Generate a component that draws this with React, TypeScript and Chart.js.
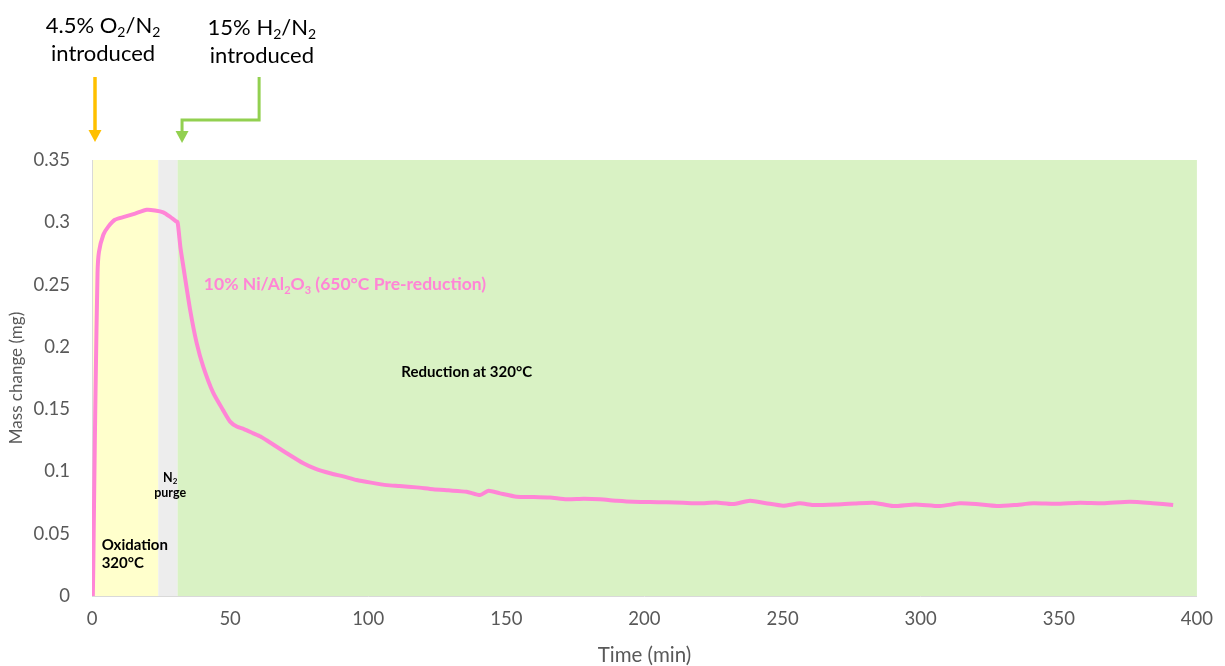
import React, { useEffect, useRef } from "react";
import { Chart, registerables } from "chart.js";

Chart.register(...registerables);

// ---- data ----
const timeMin: number[] = [
  0, 0.3, 0.6, 1.0, 1.3, 2.0, 2.5, 4.1, 5.9, 8.3, 11.9, 15.6, 19.8, 22.8, 25.8, 28.2, 30.3, 31.0,
  32.0, 33.1, 35.5, 37.9, 40.3, 43.9, 47.5, 50, 52.4, 55, 58.4, 61, 63.2, 66, 70.5, 76.5, 81,
  86.2, 91, 95.8, 101, 106.7, 111.4, 117.5, 123.5, 129, 135.6, 140.5, 143.5, 147.7, 153.7, 160,
  165.8, 171.8, 178, 183.9, 190, 196, 202, 208, 214, 220, 226, 232, 238.2, 244, 250.2, 256.3,
  261, 270, 276, 282.8, 290, 298, 307, 314.2, 320, 327.5, 334, 340.8, 349, 357.7, 366, 375.7,
  384, 391.4,
];
const massMg: number[] = [
  0, 0, 0.05, 0.12, 0.168, 0.259, 0.276, 0.29, 0.2965, 0.302, 0.3045, 0.307, 0.31, 0.3095, 0.308,
  0.3045, 0.301, 0.3, 0.28, 0.264, 0.23, 0.203, 0.184, 0.163, 0.149, 0.14, 0.136, 0.134, 0.1306,
  0.128, 0.125, 0.121, 0.1146, 0.1065, 0.102, 0.0985, 0.096, 0.0931, 0.091, 0.089, 0.0883, 0.0872,
  0.0857, 0.0848, 0.0837, 0.081, 0.0845, 0.0824, 0.0797, 0.0795, 0.079, 0.0776, 0.078, 0.0776,
  0.0765, 0.0757, 0.0755, 0.0752, 0.0748, 0.0744, 0.075, 0.0738, 0.0765, 0.0745, 0.0725, 0.0744,
  0.073, 0.0735, 0.0742, 0.0749, 0.0722, 0.0735, 0.0722, 0.0744, 0.0738, 0.0722, 0.073, 0.0744,
  0.074, 0.0749, 0.0745, 0.0757, 0.0745, 0.073,
];

// shaded stages (minutes)
const stageStart: number[] = [0, 24, 31];
const stageEnd: number[] = [24, 31, 400];

const xTicks: number[] = [0, 50, 100, 150, 200, 250, 300, 350, 400];
const yTickLabels: string[] = ["0", "0.05", "0.1", "0.15", "0.2", "0.25", "0.3", "0.35"];

type Seg = { t: string; sub?: boolean };
const seriesLabel: Seg[] = [
  { t: "10% Ni/Al" }, { t: "2", sub: true }, { t: "O" }, { t: "3", sub: true },
  { t: " (650°C Pre-reduction)" },
];
const o2Line1: Seg[] = [{ t: "4.5% O" }, { t: "2", sub: true }, { t: "/N" }, { t: "2", sub: true }];
const h2Line1: Seg[] = [{ t: "15% H" }, { t: "2", sub: true }, { t: "/N" }, { t: "2", sub: true }];
const introduced: Seg[] = [{ t: "introduced" }];
const reductionLabel: Seg[] = [{ t: "Reduction at 320°C" }];
const oxidationLines: Seg[][] = [[{ t: "Oxidation" }], [{ t: "320°C" }]];
const purgeLines: Seg[][] = [[{ t: "N" }, { t: "2", sub: true }], [{ t: "purge" }]];

const FAMILY = 'Lato, "Open Sans", sans-serif';

function drawRich(
  ctx: CanvasRenderingContext2D,
  segs: Seg[],
  x: number,
  y: number,
  size: number,
  weight: string,
  color: string,
  align: "left" | "center"
) {
  const base = `${weight} ${size}px ${FAMILY}`;
  const small = `${weight} ${Math.round(size * 0.62)}px ${FAMILY}`;
  let w = 0;
  for (const s of segs) {
    ctx.font = s.sub ? small : base;
    w += ctx.measureText(s.t).width;
  }
  let cx = align === "center" ? x - w / 2 : x;
  ctx.textAlign = "left";
  ctx.textBaseline = "alphabetic";
  ctx.fillStyle = color;
  for (const s of segs) {
    ctx.font = s.sub ? small : base;
    ctx.fillText(s.t, cx, s.sub ? y + size * 0.2 : y);
    cx += ctx.measureText(s.t).width;
  }
}

function arrowHead(ctx: CanvasRenderingContext2D, x: number, tipY: number, color: string) {
  ctx.fillStyle = color;
  ctx.beginPath();
  ctx.moveTo(x - 6.5, tipY - 12);
  ctx.lineTo(x + 6.5, tipY - 12);
  ctx.lineTo(x, tipY);
  ctx.closePath();
  ctx.fill();
}

const stagePlugin = {
  id: "stages",
  beforeDraw(chart: any) {
    const { ctx, chartArea, scales } = chart;
    const colors = ["#FFFFCC", "#EDEDED", "#D9F2C4"];
    ctx.save();
    for (let i = 0; i < stageStart.length; i++) {
      const x0 = scales.x.getPixelForValue(stageStart[i]);
      const x1 = scales.x.getPixelForValue(stageEnd[i]);
      ctx.fillStyle = colors[i];
      ctx.fillRect(x0, chartArea.top, x1 - x0, chartArea.bottom - chartArea.top);
    }
    ctx.restore();
  },
  afterDraw(chart: any) {
    const { ctx, scales } = chart;
    const X = (v: number) => scales.x.getPixelForValue(v);
    const Y = (v: number) => scales.y.getPixelForValue(v);
    ctx.save();

    // top annotations
    drawRich(ctx, o2Line1, X(4), 33, 22, "normal", "#000", "center");
    drawRich(ctx, introduced, X(4), 61, 22, "normal", "#000", "center");
    drawRich(ctx, h2Line1, X(61.5), 35, 22, "normal", "#000", "center");
    drawRich(ctx, introduced, X(61.5), 63, 22, "normal", "#000", "center");

    // yellow arrow
    const ya = X(stageStart[0]) + 3;
    ctx.strokeStyle = "#FFC000";
    ctx.lineWidth = 3.5;
    ctx.beginPath();
    ctx.moveTo(ya, 77);
    ctx.lineTo(ya, 132);
    ctx.stroke();
    arrowHead(ctx, ya, 142, "#FFC000");

    // green elbow arrow
    const gx0 = X(60.5);
    const gx1 = X(32.6);
    ctx.strokeStyle = "#92D050";
    ctx.lineWidth = 3;
    ctx.beginPath();
    ctx.moveTo(gx0, 77);
    ctx.lineTo(gx0, 120);
    ctx.lineTo(gx1, 120);
    ctx.lineTo(gx1, 133);
    ctx.stroke();
    arrowHead(ctx, gx1, 143, "#92D050");

    // in-plot labels
    drawRich(ctx, seriesLabel, X(40.5), Y(0.2455), 17.5, "bold", "#FF85D6", "left");
    drawRich(ctx, reductionLabel, X(112), Y(0.176), 15, "bold", "#000", "left");
    drawRich(ctx, oxidationLines[0], X(3.5), Y(0.0372), 15, "bold", "#000", "left");
    drawRich(ctx, oxidationLines[1], X(3.5), Y(0.0227), 15, "bold", "#000", "left");
    drawRich(ctx, purgeLines[0], X(28.3), Y(0.0916), 12.5, "bold", "#000", "center");
    drawRich(ctx, purgeLines[1], X(28.3), Y(0.0795), 12.5, "bold", "#000", "center");
    ctx.restore();
  },
};

export default function App() {
  const ref = useRef<HTMLCanvasElement | null>(null);
  useEffect(() => {
    if (!ref.current) return;
    const points = timeMin.map((t, i) => ({ x: t, y: massMg[i] }));
    const chart = new Chart(ref.current, {
      type: "line",
      data: {
        datasets: [
          {
            label: "10% Ni/Al2O3 (650°C Pre-reduction)",
            data: points,
            borderColor: "#FF85D6",
            borderWidth: 4,
            pointRadius: 0,
            tension: 0.2,
            fill: false,
          },
        ],
      },
      options: {
        responsive: false,
        animation: false,
        parsing: true,
        layout: { padding: { top: 160, right: 28, left: 0, bottom: 0 } },
        plugins: { legend: { display: false }, tooltip: { enabled: false } },
        scales: {
          x: {
            type: "linear",
            min: 0,
            max: 400,
            afterFit: (s: any) => {
              s.height = 70;
            },
            afterBuildTicks: (s: any) => {
              s.ticks = xTicks.map((v) => ({ value: v }));
            },
            grid: { display: false, drawTicks: false },
            border: { display: true, color: "#D9D9D9", width: 1 },
            ticks: {
              padding: 12,
              color: "#595959",
              font: { family: FAMILY, size: 18.5 },
              maxRotation: 0,
            },
            title: {
              display: true,
              text: "Time (min)",
              color: "#595959",
              font: { family: FAMILY, size: 20.5 },
              padding: { top: 0, bottom: -2 },
            },
          },
          y: {
            type: "linear",
            min: 0,
            max: 0.35,
            afterFit: (s: any) => {
              s.width = 92;
            },
            afterBuildTicks: (s: any) => {
              s.ticks = yTickLabels.map((l) => ({ value: parseFloat(l) }));
            },
            grid: { display: false, drawTicks: false },
            border: { display: true, color: "#D9D9D9", width: 1 },
            ticks: {
              padding: 22,
              color: "#595959",
              font: { family: FAMILY, size: 18.5 },
              callback: (_v: any, i: number) => yTickLabels[i],
            },
            title: {
              display: true,
              text: "Mass change (mg)",
              color: "#595959",
              font: { family: FAMILY, size: 17 },
              padding: { top: 6, bottom: 0 },
            },
          },
        },
      },
      plugins: [stagePlugin],
    });
    return () => chart.destroy();
  }, []);
  return (
    <div style={{ position: "absolute", left: 0, top: 0, width: 1225, height: 666, background: "#fff" }}>
      <canvas ref={ref} width={1225} height={666} />
    </div>
  );
}
